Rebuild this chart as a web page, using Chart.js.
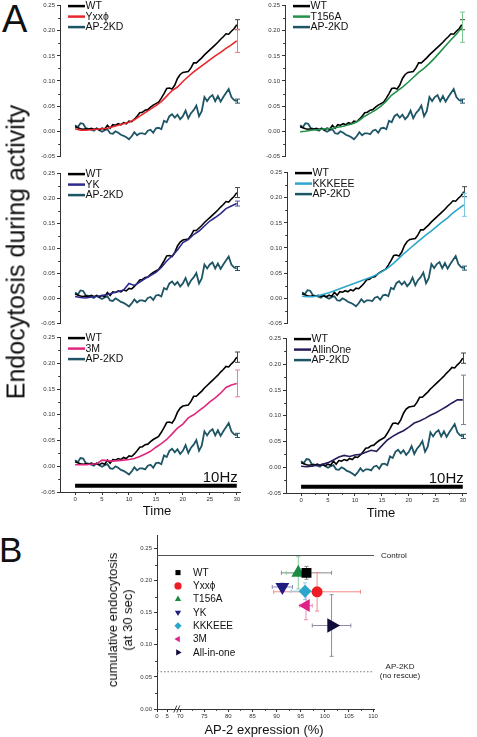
<!DOCTYPE html>
<html>
<head>
<meta charset="utf-8">
<script src="https://cdn.jsdelivr.net/npm/chart.js@4.4.0/dist/chart.umd.min.js"></script>
<style>
  body { margin: 0; width: 477px; height: 737px; position: relative; overflow: hidden; background: #fff;
         font-family: 'Liberation Sans', Arial, sans-serif; color: #111; }
  canvas { position: absolute; }
  .t { position: absolute; white-space: nowrap; line-height: 1; }
</style>
</head>
<body>
<script>
// ---- panel A data (time in s, endocytosis in a.u.) ----
const timeFine = [0,0.5,1,1.5,2,2.5,3,3.5,4,4.5,5,5.5,6,6.5,7,7.5,8,8.5,9,9.5,10,10.5,11,11.5,12,12.5,13,13.5,14,14.5,15,15.5,16,16.5,17,17.5,18,18.5,19,19.5,20,20.5,21,21.5,22,22.5,23,23.5,24,24.5,25,25.5,26,26.5,27,27.5,28,28.5,29,29.5,30]
const timeCoarse = [0,1,2,3,4,5,6,7,8,9,10,11,12,13,14,15,16,17,18,19,20,21,22,23,24,25,26,27,28,29,30]

const wtValues = [0.009,0.007,0.005,0.004,0.005,0.004,0.006,0.004,0.005,0.003,0.006,0.004,0.012,0.006,0.013,0.012,0.015,0.013,0.017,0.015,0.020,0.019,0.024,0.030,0.037,0.038,0.042,0.043,0.048,0.052,0.055,0.058,0.066,0.075,0.085,0.086,0.084,0.092,0.105,0.113,0.117,0.118,0.119,0.126,0.136,0.136,0.141,0.146,0.152,0.157,0.162,0.167,0.172,0.177,0.183,0.188,0.194,0.193,0.199,0.204,0.212]
const kdValues = [0.012,0.008,0.016,0.015,0.006,0.005,0.003,0.001,0.006,0.002,-0.001,0.002,0.004,-0.004,-0.005,0.000,-0.003,-0.007,-0.009,-0.012,-0.016,-0.010,-0.002,-0.008,-0.004,-0.004,-0.006,0.001,0.003,-0.003,0.006,0.007,0.004,0.021,0.018,0.030,0.034,0.027,0.033,0.024,0.030,0.041,0.026,0.036,0.042,0.051,0.030,0.040,0.068,0.060,0.068,0.072,0.060,0.070,0.059,0.068,0.076,0.084,0.068,0.062,0.060]

const yxxValues = [0.005,0.002,0.002,0.003,0.004,0.005,0.006,0.009,0.012,0.015,0.018,0.023,0.030,0.037,0.044,0.051,0.059,0.070,0.081,0.088,0.099,0.109,0.118,0.126,0.134,0.142,0.150,0.157,0.165,0.172,0.180]
const t156aValues = [-0.001,0.000,0.002,0.003,0.004,0.005,0.006,0.008,0.010,0.013,0.016,0.022,0.030,0.036,0.042,0.050,0.060,0.072,0.080,0.088,0.097,0.107,0.117,0.125,0.135,0.146,0.158,0.170,0.182,0.193,0.207]
const ykValues = [0.004,0.002,0.001,0.003,0.004,0.006,0.008,0.011,0.014,0.017,0.030,0.026,0.033,0.040,0.046,0.052,0.062,0.075,0.085,0.097,0.112,0.118,0.128,0.135,0.145,0.155,0.162,0.170,0.180,0.185,0.190]
const kkkeeeValues = [0.004,0.003,0.003,0.005,0.008,0.011,0.015,0.019,0.023,0.027,0.031,0.035,0.039,0.043,0.048,0.054,0.061,0.070,0.080,0.090,0.099,0.108,0.117,0.126,0.134,0.143,0.152,0.160,0.170,0.178,0.186]
const m3Values = [0.003,0.003,0.003,0.004,0.005,0.012,0.011,0.010,0.011,0.012,0.013,0.015,0.019,0.024,0.029,0.037,0.044,0.052,0.063,0.074,0.082,0.094,0.100,0.108,0.116,0.125,0.133,0.142,0.153,0.158,0.161]
const allInOneValues = [0.002,0.001,0.002,0.004,0.006,0.009,0.014,0.020,0.023,0.021,0.024,0.025,0.029,0.033,0.031,0.042,0.053,0.060,0.066,0.071,0.078,0.086,0.090,0.095,0.101,0.106,0.112,0.118,0.125,0.131,0.131]

const mutantNames = ['Yxxϕ', 'T156A', 'YK', 'KKKEEE', '3M', 'AllinOne']
const mutantValues = [yxxValues, t156aValues, ykValues, kkkeeeValues, m3Values, allInOneValues]
const mutantEndErr = [0.023, 0.030, 0.005, 0.023, 0.026, 0.048]
const wtEndErr = 0.010
const kdEndErr = 0.004

const timeTicks = [0, 5, 10, 15, 20, 25, 30]
const timeMinorTicks = [2.5, 7.5, 12.5, 17.5, 22.5, 27.5]
const endoTicks = [-0.05, 0, 0.05, 0.10, 0.15, 0.20, 0.25]
const endoMinorTicks = [-0.025, 0.025, 0.075, 0.125, 0.175, 0.225]
const stimTimes = [0, 30]
const stimLevel = -0.038

// ---- panel B data ----
const bNames = ['WT', 'Yxxϕ', 'T156A', 'YK', 'KKKEEE', '3M', 'All-in-one']
const bExpression = [96.2, 98.4, 94.5, 91.2, 95.9, 96.1, 101.4]
const bExpressionErr = [5.2, 9.0, 2.5, 2.1, 2.9, 1.3, 4.0]
const bEndo = [0.212, 0.1825, 0.212, 0.190, 0.1835, 0.161, 0.130]
const bEndoErr = [0.010, 0.030, 0.025, 0.006, 0.013, 0.022, 0.048]
const controlLevel = 0.239
const kdLevel = 0.058
const bXTickValues = [65.2, 67.3, 70, 75, 80, 85, 90, 95, 100, 105, 110]
const bXTickLabels = ['0', '5', '70', '75', '80', '85', '90', '95', '100', '105', '110']
const bXMinorTicks = [72.5, 77.5, 82.5, 87.5, 92.5, 97.5, 102.5, 107.5]
const bYTicks = [0, 0.05, 0.10, 0.15, 0.20, 0.25]
const bYMinorTicks = [0.025, 0.075, 0.125, 0.175, 0.225]

// ---- styles ----
const FONT = "'Liberation Sans', Arial, sans-serif"
const wtColor = '#000000'
const kdColor = '#1d5566'
const mutantColors = ['#e8262c', '#23914a', '#2c2a8c', '#2ba6cc', '#e0287f', '#26205a']
const mutantErrColors = ['#f07a7e', '#7cc490', '#5553a8', '#7cc8e2', '#ec7ab0', '#7e7aa0']
const bColors = ['#000000', '#ee1c25', '#1b8a45', '#211c80', '#2aa5cb', '#e0218a', '#0f0c3a']
const bErrColors = ['#8a8a8a', '#f28b8b', '#8ccc9e', '#8c8cc0', '#8fd3e6', '#f08cbc', '#8c8aa8']
const bStyles = ['rect', 'circle', 'triangle', 'triangle', 'rectRot', 'triangle', 'triangle']
const bRotation = [0, 0, 0, 180, 0, 270, 90]
const bRadius = [7, 5.5, 8, 8, 6.5, 7.5, 8.5]

const panelBoxes = [
  { axisX: 60, top: 5, bottom: 159 },
  { axisX: 285, top: 5, bottom: 159 },
  { axisX: 60, top: 173, bottom: 326 },
  { axisX: 287, top: 172, bottom: 326 },
  { axisX: 60, top: 337, bottom: 492, stim: true },
  { axisX: 286, top: 338, bottom: 493, stim: true }
]

Chart.defaults.font.family = FONT
Chart.defaults.color = '#333'
Chart.defaults.animation = false

function xy(xs, ys) {
  return ys.map((y, i) => ({ x: xs[i], y: y }))
}

function addCanvas(x, y, w, h) {
  const c = document.createElement('canvas')
  c.width = w
  c.height = h
  c.style.left = x + 'px'
  c.style.top = y + 'px'
  c.style.width = w + 'px'
  c.style.height = h + 'px'
  document.body.appendChild(c)
  return c
}

function addText(str, x, baseline, size, align) {
  const d = document.createElement('div')
  d.className = 't'
  d.textContent = str
  d.style.fontSize = size + 'px'
  d.style.left = x + 'px'
  d.style.top = (baseline - 0.8465 * size) + 'px'
  if (align === 'center') d.style.transform = 'translateX(-50%)'
  document.body.appendChild(d)
}

function addRotated(lines, cx, cy, size, lineH) {
  const d = document.createElement('div')
  d.className = 't'
  d.style.fontSize = size + 'px'
  d.style.lineHeight = lineH + 'px'
  d.style.textAlign = 'center'
  d.style.left = cx + 'px'
  d.style.top = cy + 'px'
  d.style.transform = 'translate(-50%, -50%) rotate(-90deg)'
  lines.forEach((l, i) => {
    if (i) d.appendChild(document.createElement('br'))
    d.appendChild(document.createTextNode(l))
  })
  document.body.appendChild(d)
}

function drawMarker(ctx, style, x, y, r, rotDeg) {
  const rad = rotDeg * Math.PI / 180
  ctx.beginPath()
  if (style === 'circle') {
    ctx.arc(x, y, r, 0, Math.PI * 2)
  } else if (style === 'rect') {
    const s = r * Math.SQRT1_2
    ctx.rect(x - s, y - s, 2 * s, 2 * s)
  } else if (style === 'rectRot') {
    ctx.moveTo(x - r, y); ctx.lineTo(x, y - r); ctx.lineTo(x + r, y); ctx.lineTo(x, y + r)
    ctx.closePath()
  } else {
    for (let k = 0; k < 3; k++) {
      const a = rad + k * Math.PI * 2 / 3
      const px = x + Math.sin(a) * r, py = y - Math.cos(a) * r
      if (k === 0) ctx.moveTo(px, py); else ctx.lineTo(px, py)
    }
    ctx.closePath()
  }
  ctx.fill()
}

// short minor tick marks on the axes
function minorTickPlugin(xMinor, yMinor, len, color) {
  return {
    id: 'minorTicks',
    afterDraw(chart) {
      const ctx = chart.ctx, a = chart.chartArea
      ctx.save()
      ctx.strokeStyle = color
      ctx.lineWidth = 1
      ctx.beginPath()
      yMinor.forEach(v => {
        const py = Math.round(chart.scales.y.getPixelForValue(v)) + 0.5
        ctx.moveTo(a.left - len, py); ctx.lineTo(a.left, py)
      })
      xMinor.forEach(v => {
        const px = Math.round(chart.scales.x.getPixelForValue(v)) + 0.5
        ctx.moveTo(px, a.bottom); ctx.lineTo(px, a.bottom + len)
      })
      ctx.stroke()
      ctx.restore()
    }
  }
}

// error bar at the last point of some series, legend and the 10Hz label
function panelDecorPlugin(errItems, legendItems, stim) {
  return {
    id: 'panelDecor',
    afterDatasetsDraw(chart) {
      const ctx = chart.ctx, xs = chart.scales.x, ys = chart.scales.y
      ctx.save()
      ctx.lineWidth = 1
      errItems.forEach(it => {
        const px = Math.round(xs.getPixelForValue(it.t)) + 0.5
        const top = ys.getPixelForValue(it.y + it.err)
        const bot = ys.getPixelForValue(it.y - it.err)
        ctx.strokeStyle = it.color
        ctx.beginPath()
        ctx.moveTo(px, top); ctx.lineTo(px, bot)
        ctx.moveTo(px - 2.5, top); ctx.lineTo(px + 2.5, top)
        ctx.moveTo(px - 2.5, bot); ctx.lineTo(px + 2.5, bot)
        ctx.stroke()
      })
      ctx.restore()
    },
    afterDraw(chart) {
      const ctx = chart.ctx, a = chart.chartArea
      ctx.save()
      ctx.font = '10.5px ' + FONT
      ctx.textBaseline = 'middle'
      legendItems.forEach((it, i) => {
        const y = a.top + 0.5 + i * 10.5
        ctx.strokeStyle = it.color
        ctx.lineWidth = 2.5
        ctx.beginPath(); ctx.moveTo(a.left + 8, y); ctx.lineTo(a.left + 25, y); ctx.stroke()
        ctx.fillStyle = '#111'
        ctx.fillText(it.label, a.left + 25.5, y + 0.5)
      })
      if (stim) {
        ctx.font = '15px ' + FONT
        ctx.textAlign = 'right'
        ctx.textBaseline = 'alphabetic'
        ctx.fillText('10Hz', chart.scales.x.getPixelForValue(stimTimes[1]) + 1, chart.scales.y.getPixelForValue(stimLevel) - 4)
      }
      ctx.restore()
    }
  }
}

function axisStyle() {
  return {
    grid: { drawOnChartArea: false, tickLength: 3, color: '#333' },
    border: { color: '#333', width: 1 }
  }
}

function linePanel(box, m) {
  const padTop = 5, yAxisW = 30, plotW = 180, padRight = 8
  const xAxisH = box.stim ? 14 : 0
  const padBottom = box.stim ? 1 : 3
  const plotH = box.bottom - box.top
  const c = addCanvas(box.axisX - yAxisW, box.top - padTop, yAxisW + plotW + padRight, padTop + plotH + xAxisH + padBottom)
  const last = timeCoarse.length - 1
  const datasets = [
    { label: 'AP-2KD', data: xy(timeFine, kdValues), borderColor: kdColor, borderWidth: 1.8, order: 3 },
    { label: 'WT', data: xy(timeFine, wtValues), borderColor: wtColor, borderWidth: 1.6, order: 2 },
    { label: mutantNames[m], data: xy(timeCoarse, mutantValues[m]), borderColor: mutantColors[m], borderWidth: 1.6, order: 1 }
  ]
  if (box.stim) {
    datasets.push({ label: 'stim', data: stimTimes.map(t => ({ x: t, y: stimLevel })), borderColor: '#000', borderWidth: 4, borderCapStyle: 'butt', order: 0 })
  }
  const errItems = [
    { t: timeFine[timeFine.length - 1], y: wtValues[wtValues.length - 1], err: wtEndErr, color: '#444' },
    { t: timeCoarse[last], y: mutantValues[m][last], err: mutantEndErr[m], color: mutantErrColors[m] },
    { t: timeFine[timeFine.length - 1], y: kdValues[kdValues.length - 1], err: kdEndErr, color: kdColor }
  ]
  const legendItems = [
    { label: 'WT', color: wtColor },
    { label: mutantNames[m], color: mutantColors[m] },
    { label: 'AP-2KD', color: kdColor }
  ]
  new Chart(c, {
    type: 'line',
    data: { datasets: datasets },
    options: {
      responsive: false,
      devicePixelRatio: 1,
      events: [],
      layout: { autoPadding: false, padding: { top: padTop, right: padRight, bottom: padBottom, left: 0 } },
      elements: { point: { radius: 0 }, line: { tension: 0, fill: false } },
      plugins: { legend: { display: false }, tooltip: { enabled: false } },
      scales: {
        x: Object.assign({
          type: 'linear', min: -2.8, max: 30.6, display: !!box.stim,
          afterBuildTicks: s => { s.ticks = timeTicks.map(v => ({ value: v })) },
          afterFit: s => { s.height = xAxisH },
          ticks: { font: { size: 6 }, padding: 1, maxRotation: 0, autoSkip: false, color: '#333', callback: v => String(v) }
        }, axisStyle()),
        y: Object.assign({
          type: 'linear', min: -0.05, max: 0.25,
          afterBuildTicks: s => { s.ticks = endoTicks.map(v => ({ value: v })) },
          afterFit: s => { s.width = yAxisW },
          ticks: { font: { size: 6 }, padding: 2, color: '#333', callback: v => v.toFixed(2) }
        }, axisStyle())
      }
    },
    plugins: [minorTickPlugin(box.stim ? timeMinorTicks : [], endoMinorTicks, 1.8, '#333'), panelDecorPlugin(errItems, legendItems, box.stim)]
  })
}

panelBoxes.forEach((box, i) => linePanel(box, i))

// ---- panel B ----
function bDecorPlugin() {
  return {
    id: 'bDecor',
    beforeDatasetsDraw(chart) {
      const ctx = chart.ctx, xs = chart.scales.x, ys = chart.scales.y
      ctx.save()
      ctx.lineWidth = 1
      bNames.forEach((n, i) => {
        const px = xs.getPixelForValue(bExpression[i]), py = ys.getPixelForValue(bEndo[i])
        const x0 = xs.getPixelForValue(bExpression[i] - bExpressionErr[i]), x1 = xs.getPixelForValue(bExpression[i] + bExpressionErr[i])
        const y0 = ys.getPixelForValue(bEndo[i] + bEndoErr[i]), y1 = ys.getPixelForValue(bEndo[i] - bEndoErr[i])
        ctx.strokeStyle = bErrColors[i]
        ctx.beginPath()
        ctx.moveTo(x0, py); ctx.lineTo(x1, py)
        ctx.moveTo(x0, py - 2); ctx.lineTo(x0, py + 2)
        ctx.moveTo(x1, py - 2); ctx.lineTo(x1, py + 2)
        ctx.moveTo(px, y0); ctx.lineTo(px, y1)
        ctx.moveTo(px - 2, y0); ctx.lineTo(px + 2, y0)
        ctx.moveTo(px - 2, y1); ctx.lineTo(px + 2, y1)
        ctx.stroke()
      })
      ctx.restore()
    },
    afterDraw(chart) {
      const ctx = chart.ctx, a = chart.chartArea, ys = chart.scales.y, xs = chart.scales.x
      ctx.save()
      // legend
      ctx.font = '10px ' + FONT
      ctx.textBaseline = 'middle'
      bNames.forEach((n, i) => {
        const y = a.top + 37 + i * 13.3
        ctx.fillStyle = bColors[i]
        drawMarker(ctx, bStyles[i], a.left + 21, y, 3.6, bRotation[i])
        ctx.fillStyle = '#111'
        ctx.fillText(n, a.left + 36, y + 0.5)
      })
      // reference line labels
      ctx.font = '8px ' + FONT
      ctx.fillStyle = '#222'
      ctx.fillText('Control', a.right + 7, ys.getPixelForValue(controlLevel))
      ctx.textAlign = 'center'
      const ky = ys.getPixelForValue(kdLevel)
      ctx.fillText('AP-2KD', a.right + 26, ky - 5)
      ctx.fillText('(no rescue)', a.right + 26, ky + 4.5)
      // axis break marks
      ctx.strokeStyle = '#444'
      ctx.lineWidth = 1
      const bx = xs.getPixelForValue(69.1)
      ctx.beginPath()
      ctx.moveTo(bx - 2, a.bottom + 3.5); ctx.lineTo(bx + 1, a.bottom - 3.5)
      ctx.moveTo(bx + 1, a.bottom + 3.5); ctx.lineTo(bx + 4, a.bottom - 3.5)
      ctx.stroke()
      ctx.restore()
    }
  }
}

const bLeft = 157, bTop = 533, bRight = 374, bBottom = 709
const cB = addCanvas(bLeft - 30, bTop - 3, 30 + (bRight - bLeft) + 60, 3 + (bBottom - bTop) + 14 + 1)
const bDatasets = bNames.map((n, i) => ({
  label: n,
  data: [{ x: bExpression[i], y: bEndo[i] }],
  pointStyle: bStyles[i],
  pointRotation: bRotation[i],
  pointRadius: bRadius[i],
  pointBackgroundColor: bColors[i],
  pointBorderColor: bColors[i],
  pointBorderWidth: 0,
  order: 1
}))
bDatasets.push({ label: 'Control', data: [{ x: bXTickValues[0], y: controlLevel }, { x: 110.2, y: controlLevel }], showLine: true, pointRadius: 0, borderColor: '#555', borderWidth: 1, order: 2 })
bDatasets.push({ label: 'AP-2KD', data: [{ x: bXTickValues[0], y: kdLevel }, { x: 110.2, y: kdLevel }], showLine: true, pointRadius: 0, borderColor: '#777', borderWidth: 1, borderDash: [1.5, 2], order: 2 })

new Chart(cB, {
  type: 'scatter',
  data: { datasets: bDatasets },
  options: {
    responsive: false,
    devicePixelRatio: 1,
    events: [],
    layout: { autoPadding: false, padding: { top: 3, right: 60, bottom: 1, left: 0 } },
    plugins: { legend: { display: false }, tooltip: { enabled: false } },
    scales: {
      x: Object.assign({
        type: 'linear', min: 65.2, max: 110.2,
        afterBuildTicks: s => { s.ticks = bXTickValues.map(v => ({ value: v })) },
        afterFit: s => { s.height = 14 },
        ticks: { font: { size: 6 }, padding: 1, maxRotation: 0, autoSkip: false, color: '#333', callback: (v, i) => bXTickLabels[i] }
      }, axisStyle()),
      y: Object.assign({
        type: 'linear', min: 0, max: 0.27,
        afterBuildTicks: s => { s.ticks = bYTicks.map(v => ({ value: v })) },
        afterFit: s => { s.width = 30 },
        ticks: { font: { size: 6 }, padding: 2, color: '#333', callback: v => v.toFixed(2) }
      }, axisStyle())
    }
  },
  plugins: [minorTickPlugin(bXMinorTicks, bYMinorTicks, 1.8, '#333'), bDecorPlugin()]
})

// ---- text outside the plots ----
addText('A', 2, 32, 38)
addText('B', -1, 562, 35)
addRotated(['Endocytosis during activity'], 16, 252, 25, 29)
addText('Time', 157, 515, 13, 'center')
addText('Time', 381, 517, 13, 'center')
addRotated(['cumulative endocytosis', '(at 30 sec)'], 120, 620, 13, 15)
addText('AP-2 expression (%)', 264, 734, 13, 'center')
</script>
</body>
</html>
